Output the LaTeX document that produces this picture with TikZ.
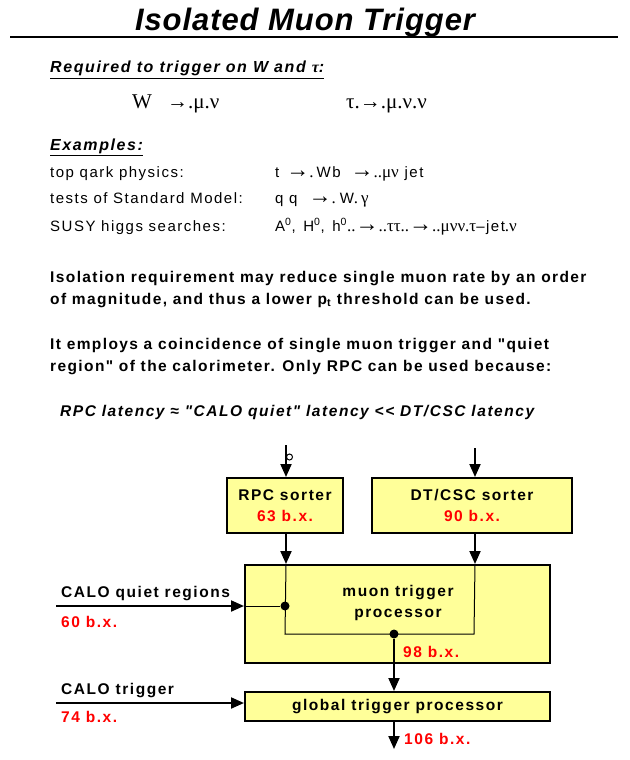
\documentclass[tikz,border=0pt]{standalone}
\usepackage{fontspec}
\setmainfont{Liberation Sans}[LetterSpace=10,Ligatures=TeXOff]
\newfontfamily\titlefont{Liberation Sans}[LetterSpace=3]
\newfontfamily\parafont{Liberation Sans}[LetterSpace=9,Ligatures=TeXOff]
\newfontfamily\symfont{Liberation Serif}
\usetikzlibrary{arrows.meta}
\definecolor{boxyellow}{RGB}{255,255,153}
\newcommand{\bx}[1]{\textcolor{red}{#1}}
\newcommand{\decar}{{\symfont\fontsize{23}{23}\selectfont →}}
\newcommand{\gk}[1]{{\symfont\fontsize{17}{17}\selectfont #1}}

\begin{document}
\begin{tikzpicture}[x=1pt,y=-1pt,>={Triangle[length=13pt,width=11pt]},
  txt/.style={anchor=base west,inner sep=0pt,font=\fontsize{15}{17}\selectfont},
  btxt/.style={anchor=base west,inner sep=0pt,font=\fontsize{15.5}{17}\selectfont\bfseries},
  ptxt/.style={anchor=base west,inner sep=0pt,font=\fontsize{15.5}{17}\selectfont\parafont\bfseries},
  head/.style={anchor=base west,inner sep=0pt,font=\fontsize{16}{18}\selectfont\bfseries\itshape},
  eq/.style={anchor=base west,inner sep=0pt,font=\fontsize{21}{23}\selectfont\symfont},
  box/.style={draw,line width=2pt,fill=boxyellow,inner sep=0pt,align=center,
    font=\fontsize{15.5}{21}\selectfont\bfseries},
  flow/.style={line width=2pt,->},
  wire/.style={line width=1pt},
  dot/.style={circle,fill,inner sep=0pt,minimum size=9pt}]
\useasboundingbox (0,0) rectangle (629,760);

% ---------------- Title ----------------
\node[anchor=base,inner sep=0pt,font=\fontsize{31}{33}\selectfont\titlefont\bfseries\itshape] (title) at (305,31) {Isolated Muon Trigger};
\draw[line width=2.5pt] (10,37) -- (618,37);

% ---------------- Physics ----------------
\node[head] (req) at (50,73) {\underline{Required to trigger on W and {\symfont\itshape τ}:}};
\node[eq] (wdecay) at (132,108) {W\hspace{15pt}→.μ.ν};
\node[eq] (taudecay) at (346,108) {τ.→.μ.ν.ν};

\node[head] (ex) at (50,150) {\underline{Examples:}};
\node[txt] (top) at (50,177) {top qark physics:};
\node[txt] (sm) at (50,203) {tests of Standard Model:};
\node[txt] (susy) at (50,231) {SUSY higgs searches:};
\node[txt] (topr) at (275,177) {t\hspace{7pt}\decar\gk{.}\hspace{3pt}Wb\hspace{10pt}\decar\gk{..μν} jet};
\node[txt] (smr) at (275,203) {q q\hspace{11pt}\decar\gk{.}\hspace{4pt}W\gk{.\,γ}};
\node[txt] (susyr) at (275,231) {A\textsuperscript{0}, \hspace{2pt}H\textsuperscript{0}, \hspace{2pt}h\textsuperscript{0}\gk{..}\decar\gk{..ττ..}\decar\gk{..μνν.τ}–jet\gk{.ν}};

\node[ptxt] (iso1) at (50,282) {Isolation requirement may reduce single muon rate by an order};
\node[ptxt] (iso2) at (50,304) {of magnitude, and thus a lower p\textsubscript{t} threshold can be used.};
\node[ptxt] (coin1) at (50,349) {It employs a coincidence of single muon trigger and "quiet};
\node[ptxt] (coin2) at (50,371) {region" of the calorimeter. Only RPC can be used because:};
\node[head,font=\fontsize{15.5}{18}\selectfont\bfseries\itshape] (lat) at (60,416) {RPC latency ≈ "CALO quiet" latency << DT/CSC latency};

% ---------------- Trigger chain ----------------
\node[box,minimum width=116pt,minimum height=55pt] (rpc) at (285,505.5) {RPC sorter\\\bx{63 b.x.}};
\node[box,minimum width=200pt,minimum height=55pt] (dtcsc) at (472,505.5) {DT/CSC sorter\\\bx{90 b.x.}};
\node[box,minimum width=305pt,minimum height=98pt] (muon) at (397.5,614) {};
\node[inner sep=0pt,align=center,font=\fontsize{15.5}{21}\selectfont\bfseries] (muontxt) at (398,603) {muon trigger\\processor};
\node[box,minimum width=305pt,minimum height=29pt] (gtp) at (397.5,706.5) {global trigger processor};

\coordinate (rpcin) at (286,445);
\coordinate (dtin) at (475,448);
\node[dot] (qdot) at (285,606) {};
\node[dot] (mdot) at (394,634) {};
\coordinate (corner1) at (285,634);
\coordinate (corner2) at (474,634);
\coordinate (qin) at (56,606);
\coordinate (cin) at (56,703);
\coordinate (gout) at (394,749);

\draw[flow] (rpcin) -- (rpcin |- rpc.north);
\draw[line width=1pt] (289.5,457) circle (3pt);
\draw[flow] (dtin) -- (dtin |- dtcsc.north);
\draw[flow] (rpcin |- rpc.south) -- (rpcin |- muon.north);
\draw[flow] (dtin |- dtcsc.south) -- (dtin |- muon.north);

\draw[wire] (rpcin |- muon.north) -- (corner1) -- (corner2) -- (dtin |- muon.north);
\draw[flow] (qin) -- (muon.west |- qin);
\draw[wire] (muon.west |- qin) -- (qdot);
\draw[flow] (mdot) -- (mdot |- gtp.north);
\draw[flow] (cin) -- (gtp.west |- cin);
\draw[flow] (mdot |- gtp.south) -- (gout);

\node[btxt] (calo) at (61,597) {CALO quiet regions};
\node[btxt] (calot) at (61,627) {\bx{60 b.x.}};
\node[btxt] (trig) at (61,694) {CALO trigger};
\node[btxt] (trigt) at (61,722) {\bx{74 b.x.}};
\node[btxt] (mt) at (403,657) {\bx{98 b.x.}};
\node[btxt] (gt) at (404,744) {\bx{106 b.x.}};

\end{tikzpicture}
\end{document}
